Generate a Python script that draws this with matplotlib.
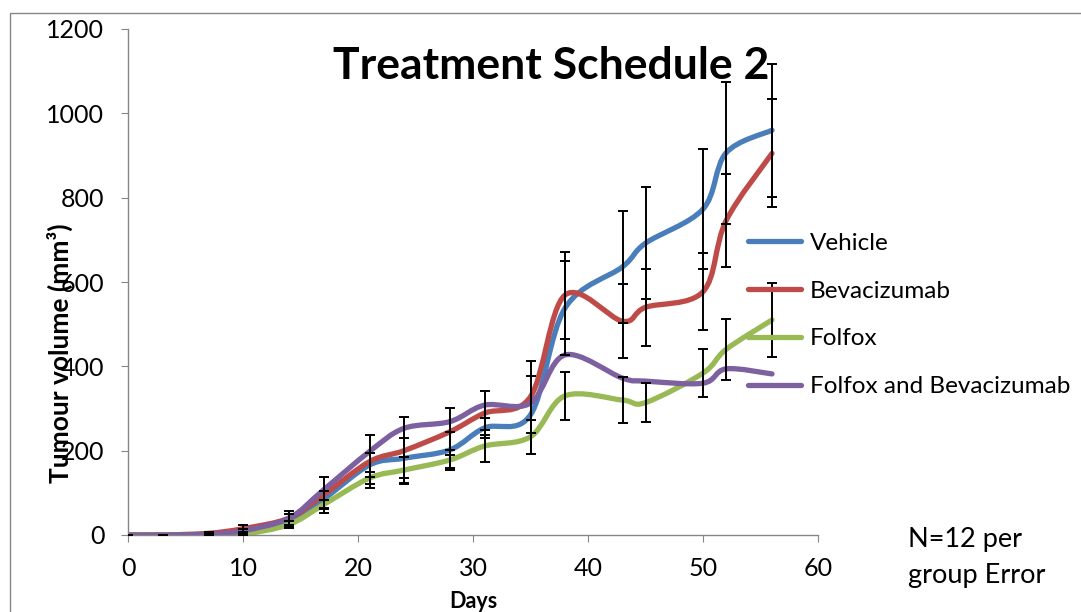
import matplotlib
matplotlib.use('Agg')
import matplotlib.pyplot as plt
from matplotlib.path import Path
from matplotlib.patches import PathPatch, Rectangle
from matplotlib.lines import Line2D

plt.rcParams['font.family'] = ['Lato', 'DejaVu Sans']

# Data
days = [0, 3, 7, 10, 14, 17, 21, 24, 28, 31, 35, 38, 43, 45, 50, 52, 56]

vehicle = [0, 0, 2, 10, 35, 85, 166, 182, 202, 254, 285, 538, 636, 692, 773, 906, 960]
bevacizumab = [0, 0, 4, 15, 40, 95, 174, 200, 245, 289, 328, 569, 507, 540, 577, 745, 905]
folfox = [0, 0, 0, 2, 25, 72, 135, 154, 178, 211, 233, 330, 320, 314, 384, 440, 510]
folfox_bev = [0, 0, 2, 10, 40, 107, 198, 253, 269, 308, 313, 427, 372, 365, 360, 394, 382]

vehicle_err = [0, 0, 1, 5, 15, 20, 28, 48, 43, 23, 92, 112, 133, 133, 142, 168, 158]
bevacizumab_err = [0, 0, 2, 8, 17, 43, 63, 80, 56, 52, 85, 103, 88, 91, 92, 110, 128]
folfox_err = [0, 0, 0, 2, 8, 10, 15, 30, 24, 37, 40, 57, 55, 47, 57, 72, 87]

names = ['Vehicle', 'Bevacizumab', 'Folfox', 'Folfox and Bevacizumab']
colors = ['#4A7EBB', '#BE4B48', '#98B954', '#7D60A0']


def smooth_path(x, y):
    # Excel-style smoothed line: cubic Bezier segments through every point
    verts = [(x[0], y[0])]
    codes = [Path.MOVETO]
    n = len(x)
    for i in range(n - 1):
        x0, y0 = (x[i - 1], y[i - 1]) if i > 0 else (x[i], y[i])
        x3, y3 = (x[i + 2], y[i + 2]) if i + 2 < n else (x[i + 1], y[i + 1])
        c1 = (x[i] + (x[i + 1] - x0) / 6, y[i] + (y[i + 1] - y0) / 6)
        c2 = (x[i + 1] - (x3 - x[i]) / 6, y[i + 1] - (y3 - y[i]) / 6)
        verts += [c1, c2, (x[i + 1], y[i + 1])]
        codes += [Path.CURVE4] * 3
    return Path(verts, codes)


fig = plt.figure(figsize=(10.81, 6.12), dpi=100)
ax = fig.add_axes([128 / 1081, 1 - 535 / 612, 690 / 1081, 506 / 612])

series = [vehicle, bevacizumab, folfox, folfox_bev]
for vals, c in zip(series, colors):
    ax.add_patch(PathPatch(smooth_path(days, vals), facecolor='none', edgecolor=c,
                           lw=3.8, capstyle='round', joinstyle='round', zorder=2))

for vals, err in [(vehicle, vehicle_err), (bevacizumab, bevacizumab_err), (folfox, folfox_err)]:
    ax.errorbar(days, vals, yerr=err, fmt='none', ecolor='black', elinewidth=1.4,
                capsize=3.5, capthick=1.4, zorder=3)

ax.set_xlim(0, 60)
ax.set_ylim(0, 1200)
ax.set_xticks(range(0, 61, 10))
ax.set_yticks(range(0, 1201, 200))
for side in ['top', 'right']:
    ax.spines[side].set_visible(False)
for side in ['left', 'bottom']:
    ax.spines[side].set_color('#868686')
    ax.spines[side].set_linewidth(1.0)
ax.tick_params(direction='out', length=5, color='#868686', labelsize=18)
ax.tick_params(axis='y', pad=12)
ax.tick_params(axis='x', pad=11)

ax.set_xlabel('Days', fontsize=15.5, fontweight='bold', labelpad=8)
fig.text(60 / 1081, 1 - 353 / 612, 'Tumour volume (mm³)', rotation=90,
         ha='center', va='center', fontsize=19, fontweight='bold')
fig.text(551 / 1081, 1 - 66 / 612, 'Treatment Schedule 2', ha='center', va='center',
         fontsize=32, fontweight='bold')
fig.text(908 / 1081, 1 - 558 / 612, 'N=12 per\ngroup Error', ha='left', va='center',
         fontsize=19.5, linespacing=1.55)

handles = [Line2D([], [], color=c, lw=3.8, solid_capstyle='round') for c in colors]
fig.legend(handles, names, loc='center left', bbox_to_anchor=(748 / 1081, 1 - 315 / 612),
           frameon=False, fontsize=17.5, handlelength=2.2, handletextpad=0.35,
           labelspacing=1.1, borderpad=0, borderaxespad=0)

# thin grey chart border, open on the right and bottom as in the source
fig.patches.append(Rectangle((10 / 1081, -0.1), 1.2, 1 - 13 / 612 + 0.1,
                             transform=fig.transFigure, fill=False,
                             edgecolor='#868686', lw=1.0))

fig.savefig('out.png', dpi=100)
